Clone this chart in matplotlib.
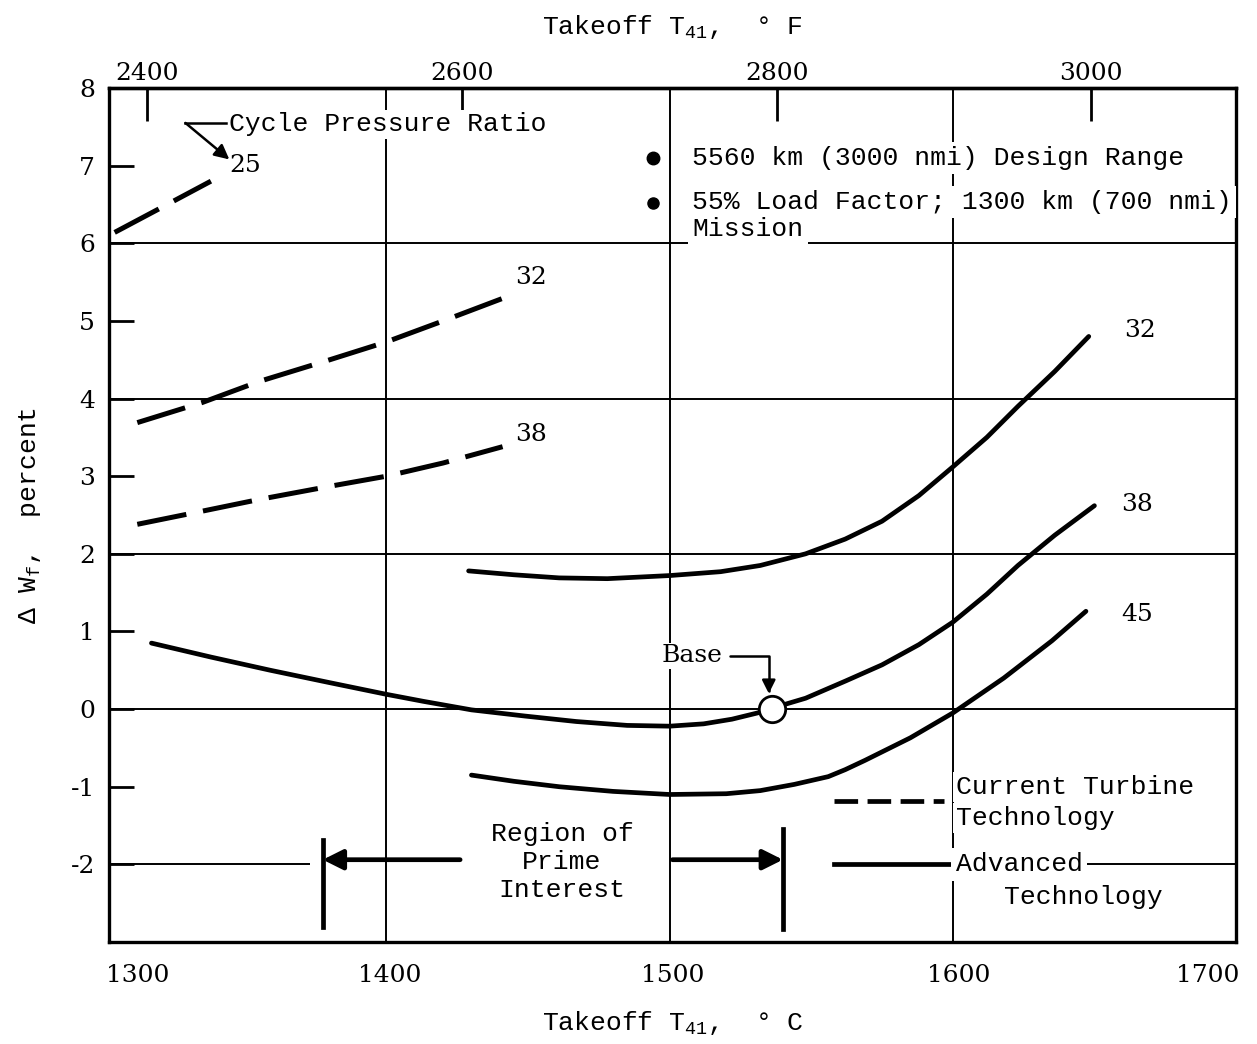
import matplotlib.pyplot as plt
import numpy as np

# typewriter style text like the original report figure
plt.rcParams['font.family'] = ['Liberation Mono', 'DejaVu Sans Mono']
plt.rcParams['mathtext.fontset'] = 'custom'
plt.rcParams['mathtext.rm'] = 'Liberation Mono'
plt.rcParams['mathtext.default'] = 'rm'

# current turbine technology (dashed), T41 in deg C vs delta Wf in percent
cur25_t = [1304, 1320, 1338]
cur25_w = [6.14, 6.45, 6.80]
cur32_t = [1312, 1335, 1355, 1380, 1400, 1420, 1441]
cur32_w = [3.69, 3.95, 4.22, 4.50, 4.73, 5.00, 5.29]
cur38_t = [1312, 1335, 1355, 1380, 1400, 1420, 1441]
cur38_w = [2.38, 2.55, 2.70, 2.87, 3.00, 3.17, 3.38]

# advanced technology (solid)
adv32_t = [1429, 1445, 1461, 1478, 1500, 1518, 1532, 1548, 1562, 1575, 1588, 1600, 1612, 1623, 1636, 1648]
adv32_w = [1.78, 1.73, 1.69, 1.68, 1.72, 1.77, 1.85, 2.00, 2.19, 2.42, 2.75, 3.12, 3.50, 3.90, 4.35, 4.80]
adv38_t = [1317, 1338, 1359, 1380, 1400, 1413, 1430, 1449, 1467, 1485, 1500, 1512, 1522, 1531, 1536,
           1548, 1562, 1575, 1588, 1600, 1612, 1623, 1636, 1650]
adv38_w = [0.85, 0.67, 0.50, 0.34, 0.19, 0.10, -0.01, -0.09, -0.16, -0.21, -0.22, -0.19, -0.13, -0.05, 0.01,
           0.14, 0.36, 0.57, 0.83, 1.12, 1.48, 1.85, 2.24, 2.62]
adv45_t = [1430, 1445, 1461, 1480, 1500, 1520, 1532, 1544, 1556, 1562, 1569, 1585, 1600, 1618, 1635, 1647]
adv45_w = [-0.85, -0.93, -1.00, -1.06, -1.10, -1.09, -1.05, -0.97, -0.87, -0.78, -0.66, -0.37, -0.05, 0.40, 0.88, 1.26]

base_t, base_w = 1536, 0.0

# ratio labels
ratio_labels = ['25', '32', '38', '32', '38', '45']
ratio_t = [1350, 1451, 1451, 1666, 1665, 1665]
ratio_w = [7.0, 5.56, 3.54, 4.88, 2.64, 1.22]

# axis ticks
yticks = list(range(-2, 9))
c_ticks = [1300, 1400, 1500, 1600, 1700]
c_label_pos = [1312, 1401, 1501, 1602, 1690]
f_ticks = [2400, 2600, 2800, 3000]

# region of prime interest
prime_lo, prime_hi = 1377.5, 1540

fig = plt.figure(figsize=(12.57, 10.44), dpi=100)
ax = fig.add_axes([0.0867, 0.0977, 0.8966, 0.818])
ax.set_xlim(1302, 1700)
ax.set_ylim(-3, 8)

# grid: horizontal at even values, vertical at 1400-1600
for yv in [6, 4, 2, 0]:
    ax.axhline(yv, color='k', lw=1.4, zorder=1)
ax.hlines(-2, 1302, 1373, color='k', lw=1.4, zorder=1)
ax.hlines(-2, 1558, 1700, color='k', lw=1.4, zorder=1)
for xv in [1400, 1500, 1600]:
    ax.axvline(xv, color='k', lw=1.4, zorder=1)

for s in ax.spines.values():
    s.set_linewidth(2.4)

ax.set_yticks(yticks)
ax.set_yticklabels([str(v) for v in yticks], family='DejaVu Serif', fontsize=18)
ax.tick_params(axis='y', direction='in', length=18, width=2, pad=10)
ax.set_xticks([])
for c, pos in zip(c_ticks, c_label_pos):
    ax.annotate(str(c), xy=(pos, 0), xycoords=('data', 'axes fraction'),
                xytext=(0, -24), textcoords='offset points',
                family='DejaVu Serif', fontsize=18, ha='center', va='center')

# top axis in deg F
def c2f(c):
    return np.asarray(c) * 9 / 5 + 32

def f2c(f):
    return (np.asarray(f) - 32) * 5 / 9

top = ax.secondary_xaxis('top', functions=(c2f, f2c))
top.set_xticks(f_ticks)
top.set_xticklabels([str(v) for v in f_ticks], family='DejaVu Serif', fontsize=18)
top.tick_params(direction='in', length=24, width=2, pad=2)
top.spines['top'].set_linewidth(2.4)
top.set_xlabel('Takeoff T$_{41}$,  ° F', fontsize=19, labelpad=20)

ax.set_xlabel('Takeoff T$_{41}$,  ° C', fontsize=19, labelpad=48)
ax.set_ylabel('Δ W$_{f}$,  percent', fontsize=19, labelpad=20)

# curves
dash = (10, 3.4)
for t, w in [(cur25_t, cur25_w), (cur32_t, cur32_w), (cur38_t, cur38_w)]:
    ax.plot(t, w, color='k', lw=3.6, ls=(0, dash), solid_capstyle='butt', zorder=3)
for t, w in [(adv32_t, adv32_w), (adv38_t, adv38_w), (adv45_t, adv45_w)]:
    ax.plot(t, w, color='k', lw=3.4, solid_capstyle='round', solid_joinstyle='round', zorder=3)

ax.plot(base_t, base_w, 'o', ms=19, mfc='white', mec='k', mew=2, zorder=5)
ax.annotate('Base', xy=(base_t - 1, 0.2), xytext=(1508, 0.69), fontsize=18,
            family='DejaVu Serif', ha='center', va='center',
            bbox=dict(fc='white', ec='none', pad=1),
            arrowprops=dict(arrowstyle='-|>', color='k', lw=1.8, mutation_scale=20,
                            connectionstyle='angle,angleA=0,angleB=90,rad=0',
                            shrinkA=4, shrinkB=0))

for lab, t, w in zip(ratio_labels, ratio_t, ratio_w):
    ax.text(t, w, lab, fontsize=18, ha='center', va='center', family='DejaVu Serif', zorder=4)

# cycle pressure ratio pointer
ax.text(1344.5, 7.53, 'Cycle Pressure Ratio', fontsize=19, ha='left', va='center',
        bbox=dict(fc='white', ec='none', pad=2), zorder=4)
ax.plot([1329, 1343.5], [7.55, 7.55], color='k', lw=1.8, zorder=4)
ax.annotate('', xy=(1344.5, 7.08), xytext=(1329, 7.55),
            arrowprops=dict(arrowstyle='-|>', color='k', lw=1.8, mutation_scale=22,
                            shrinkA=0, shrinkB=0))

# conditions
ax.plot(1494, 7.1, 'o', color='k', ms=9)
ax.plot(1494, 6.52, 'o', color='k', ms=8)
ax.text(1508, 7.1, '5560 km (3000 nmi) Design Range', fontsize=19, ha='left', va='center',
        bbox=dict(fc='white', ec='none', pad=3), zorder=4)
ax.text(1508, 6.53, '55% Load Factor; 1300 km (700 nmi)', fontsize=19,
        ha='left', va='center', bbox=dict(fc='white', ec='none', pad=3), zorder=4)
ax.text(1508, 6.19, 'Mission', fontsize=19,
        ha='left', va='center', bbox=dict(fc='white', ec='none', pad=3), zorder=4)

# region of prime interest
ax.text(1462, -1.97, 'Region of\nPrime\nInterest', fontsize=19, ha='center', va='center',
        linespacing=1.2, zorder=4)
ax.plot([prime_lo, prime_lo], [-1.69, -2.81], color='k', lw=3.4, zorder=4)
ax.plot([prime_hi, prime_hi], [-1.55, -2.83], color='k', lw=3.4, zorder=4)
ax.annotate('', xy=(prime_lo, -1.94), xytext=(1426, -1.94),
            arrowprops=dict(arrowstyle='-|>', color='k', lw=3.4, mutation_scale=30,
                            shrinkA=0, shrinkB=0), zorder=4)
ax.annotate('', xy=(prime_hi, -1.94), xytext=(1501, -1.94),
            arrowprops=dict(arrowstyle='-|>', color='k', lw=3.4, mutation_scale=30,
                            shrinkA=0, shrinkB=0), zorder=4)

# legend key
ax.plot([1558, 1597], [-1.18, -1.18], color='k', lw=3.4, ls=(0, (5, 2)), zorder=4)
ax.plot([1558, 1599], [-2.0, -2.0], color='k', lw=3.4, zorder=4)
ax.text(1601, -1.0, 'Current Turbine', fontsize=19, ha='left', va='center',
        bbox=dict(fc='white', ec='none', pad=2), zorder=4)
ax.text(1601, -1.4, 'Technology', fontsize=19, ha='left', va='center',
        bbox=dict(fc='white', ec='none', pad=2), zorder=4)
ax.text(1601, -2.0, 'Advanced', fontsize=19, ha='left', va='center',
        bbox=dict(fc='white', ec='none', pad=3), zorder=4)
ax.text(1618, -2.42, 'Technology', fontsize=19, ha='left', va='center',
        bbox=dict(fc='white', ec='none', pad=2), zorder=4)

fig.savefig('out.png', dpi=100)
